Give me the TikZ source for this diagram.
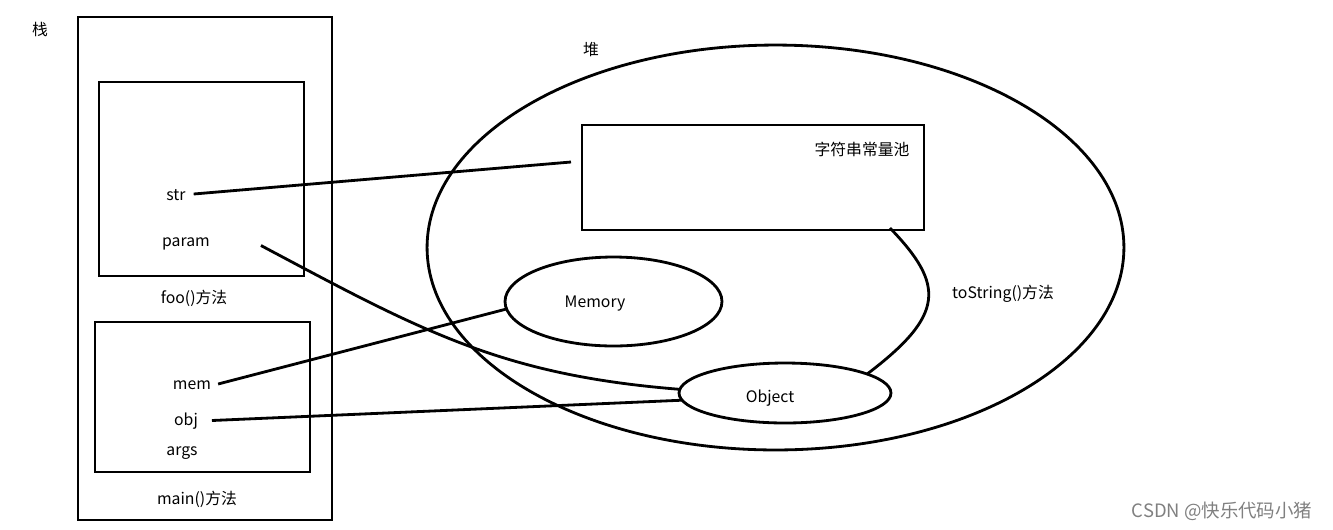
\documentclass[tikz,border=0pt]{standalone}
\usepackage{fontspec}
\setmainfont{Noto Sans CJK SC}
\usetikzlibrary{shapes.geometric}

\begin{document}
\begin{tikzpicture}[
  x=0.02cm, y=-0.02cm,
  every node/.style={font=\fontsize{9}{11}\selectfont, inner sep=1pt},
  lbl/.style={yshift=-0.05cm},
  box/.style={draw, line width=1.6pt, inner sep=0pt, outer sep=0pt},
  ell/.style={draw, ellipse, line width=1.6pt, inner sep=0pt, outer sep=0pt},
  link/.style={line width=1.6pt}
]
\useasboundingbox (0,0) rectangle (1333,529);

% stack side
\node[lbl] (stacklbl) at (40,27) {栈};
\node[box, minimum width=5.08cm, minimum height=10.06cm] (stack) at (205,268.5) {};
\node[box, minimum width=4.1cm, minimum height=3.88cm] (foo) at (201.5,179) {};
\node[box, minimum width=4.3cm, minimum height=3cm] (main) at (202.5,397) {};

\node[lbl] (str) at (176,193) {str};
\node[lbl] (param) at (186,241) {param};
\node[lbl] (foolbl) at (194,296) {foo()方法};
\node[lbl] (mem) at (192,383) {mem};
\node[lbl] (obj) at (186,419) {obj};
\node[lbl] (args) at (182,451) {args};
\node[lbl] (mainlbl) at (197,497) {main()方法};

% heap side
\node[ell, minimum width=13.94cm, minimum height=8.1cm] (heap) at (775.5,247.5) {};
\node[lbl] (heaplbl) at (591,47) {堆};
\node[box, minimum width=6.84cm, minimum height=2.1cm] (pool) at (753,177.5) {};
\node[lbl] (poollbl) at (862,147) {字符串常量池};
\node[ell, minimum width=4.34cm, minimum height=1.78cm] (memory) at (613.5,301.5) {};
\node[lbl] (memorylbl) at (595,301) {Memory};
\node[ell, minimum width=4.24cm, minimum height=1.2cm] (object) at (785,393) {};
\node[lbl] (objectlbl) at (770,396) {Object};
\node[lbl] (tostr) at (1003,291) {toString()方法};

% references
\coordinate (strend) at (571,162);
\draw[link] ([xshift=0.12cm,yshift=0.03cm]str.east) -- (strend);
\draw[link] ([xshift=0.98cm,yshift=-0.04cm]param.east) .. controls (420,330) and (500,375) .. (object.178);
\draw[link] ([xshift=0.1cm,yshift=0.03cm]mem.east) -- (memory.184);
\draw[link] ([xshift=0.24cm,yshift=0.02cm]obj.east) -- (object.184);
\draw[link] ([xshift=-0.68cm,yshift=0.04cm]pool.south east) .. controls (945,285) and (945,315) .. (object.13);

\node[text=gray, font=\fontsize{10.5}{12}\selectfont] (mark) at (1222,511) {CSDN @快乐代码小猪};
\end{tikzpicture}
\end{document}
